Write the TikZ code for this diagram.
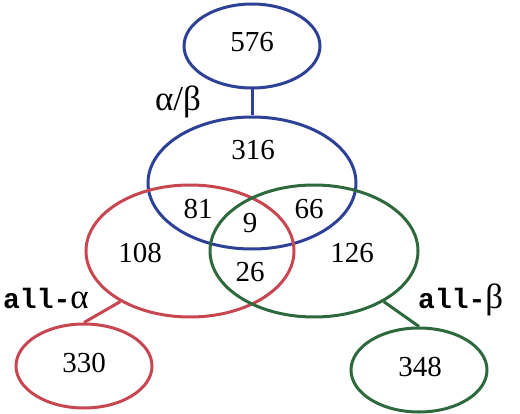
\documentclass[tikz,border=0pt]{standalone}
\usepackage{fontspec}
\setmainfont{Liberation Serif}
\setmonofont{Liberation Mono}
\usetikzlibrary{shapes.geometric}
\definecolor{abblue}{RGB}{45,65,150}
\definecolor{alphared}{RGB}{200,70,80}
\definecolor{betagreen}{RGB}{45,105,60}
\begin{document}
\begin{tikzpicture}[x=1pt,y=-1pt]
	\tikzstyle{set}=[ellipse,draw,line width=3pt,inner sep=0pt]
	\tikzstyle{small set}=[set,minimum width=136pt,minimum height=84pt]
	\tikzstyle{big set}=[set,minimum width=208pt,minimum height=132pt]
	\tikzstyle{link}=[line width=3pt]
	\tikzstyle{count}=[font=\fontsize{29}{31}\selectfont]
	\tikzstyle{class}=[font=\fontsize{35}{37}\selectfont]
	\tikzstyle{mono}=[font=\fontsize{28}{30}\selectfont,inner sep=0pt]
	\useasboundingbox (0,0) rectangle (520,414);
	% the three classes
	\node[big set,abblue] (ab) at (252,183){};
	\node[big set,alphared] (alpha) at (190,251){};
	\node[big set,betagreen] (beta) at (314,251){};
	% the families outside
	\node[small set,abblue] (abonly) at (252,46){};
	\node[small set,alphared] (alphaonly) at (84,366){};
	\node[small set,betagreen] (betaonly) at (419,370){};
	\draw[link,abblue] (abonly) -- (ab);
	\draw[link,alphared] (alpha.216) -- (alphaonly.north);
	\draw[link,betagreen] (beta.324) -- (betaonly.north);
	% counts
	\node[count] (n576) at (252,42){576};
	\node[count] (n316) at (253,150){316};
	\node[count] (n81) at (198,209){81};
	\node[count] (n9) at (250,223){9};
	\node[count] (n66) at (309,209){66};
	\node[count] (n108) at (140,253){108};
	\node[count] (n126) at (352,253){126};
	\node[count] (n26) at (250,272){26};
	\node[count] (n330) at (84,363){330};
	\node[count] (n348) at (420,367){348};
	% class names
	\node[class] (abname) at (178,102){α/β};
	\node[mono,anchor=base west] (alphaname) at (3,309){\textbf{\texttt{all-}}{\fontsize{35}{37}\selectfont α}};
	\node[mono,anchor=base west] (betaname) at (418,309){\textbf{\texttt{all-}}{\fontsize{35}{37}\selectfont β}};
\end{tikzpicture}
\end{document}
